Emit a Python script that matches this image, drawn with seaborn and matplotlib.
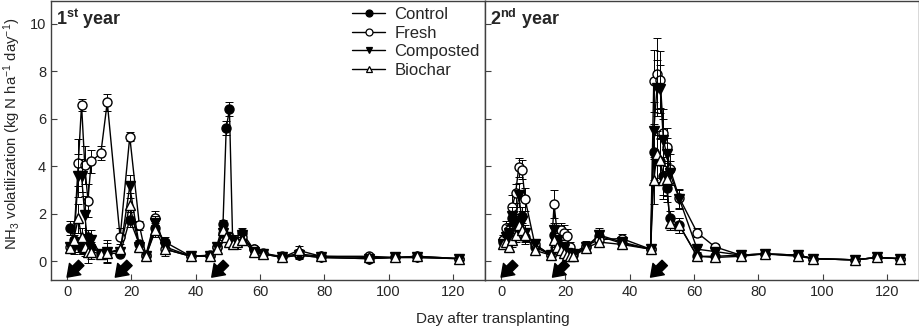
import numpy as np
import pandas as pd
import seaborn as sns
import matplotlib
matplotlib.use('Agg')
import matplotlib.pyplot as plt
from matplotlib.lines import Line2D

# ---- data: 1st year ----
days1 = [1, 2, 3.5, 4.5, 5.5, 6.5, 7.5, 10.5, 12.5, 16.5, 19.5, 22.5, 24.5, 27.5, 30.5,
         38.5, 44.5, 46.5, 48.5, 49.5, 50.5, 51.5, 53, 54.5, 58, 61, 67, 72, 79, 94, 102, 109, 122]
control1 = [1.4, 0.9, 0.7, 0.5, 0.5, 1.0, 0.6, 0.3, 0.35, 0.3, 1.75, 0.7, 0.2, 1.4, 0.8,
            0.2, 0.2, 0.6, 1.55, 5.6, 6.4, 0.9, 0.85, 1.2, 0.5, 0.35, 0.15, 0.25, 0.15, 0.1, 0.15, 0.15, 0.1]
fresh1 = [0.6, 0.7, 4.15, 6.6, 4.05, 2.55, 4.2, 4.55, 6.7, 1.0, 5.25, 1.5, 0.25, 1.8, 0.5,
          0.2, 0.25, 0.6, 1.2, 1.0, 1.0, 0.8, 0.9, 1.0, 0.5, 0.3, 0.2, 0.3, 0.2, 0.2, 0.15, 0.2, 0.1]
composted1 = [0.6, 0.6, 3.6, 3.6, 1.95, 0.7, 0.9, 0.3, 0.4, 0.4, 3.15, 0.6, 0.2, 1.6, 0.6,
              0.2, 0.2, 0.6, 1.2, 1.0, 0.9, 0.8, 0.7, 1.1, 0.4, 0.3, 0.15, 0.25, 0.15, 0.1, 0.15, 0.15, 0.1]
biochar1 = [0.55, 0.9, 1.8, 1.0, 0.6, 0.4, 0.4, 0.3, 0.35, 0.5, 2.35, 0.6, 0.2, 1.3, 0.5,
            0.2, 0.2, 0.5, 1.3, 1.0, 0.8, 0.7, 0.8, 0.9, 0.4, 0.3, 0.15, 0.45, 0.2, 0.15, 0.15, 0.2, 0.1]
control1_err = [0.3, 0.2, 0.3, 0.2, 0.2, 0.3, 0.2, 0.1, 0.1, 0.1, 0.3, 0.2, 0.1, 0.3, 0.2,
                0.1, 0.1, 0.2, 0.2, 0.3, 0.3, 0.2, 0.2, 0.2, 0.1, 0.1, 0.05, 0.1, 0.05, 0.05, 0.05, 0.05, 0.05]
fresh1_err = [0.2, 0.3, 1.0, 0.25, 0.8, 0.7, 0.5, 0.3, 0.35, 0.4, 0.2, 0.2, 0.1, 0.3, 0.3,
              0.1, 0.1, 0.2, 0.3, 0.2, 0.2, 0.2, 0.2, 0.3, 0.15, 0.1, 0.1, 0.2, 0.1, 0.1, 0.05, 0.1, 0.05]
composted1_err = [0.2, 0.3, 0.9, 0.7, 0.8, 0.3, 0.4, 0.2, 0.5, 0.2, 0.5, 0.2, 0.1, 0.3, 0.2,
                  0.1, 0.1, 0.2, 0.2, 0.2, 0.2, 0.2, 0.2, 0.2, 0.1, 0.1, 0.05, 0.1, 0.05, 0.05, 0.05, 0.05, 0.05]
biochar1_err = [0.2, 0.3, 0.6, 0.4, 0.4, 0.5, 0.3, 0.2, 0.4, 0.2, 0.5, 0.2, 0.1, 0.3, 0.2,
                0.1, 0.1, 0.2, 0.2, 0.2, 0.2, 0.2, 0.2, 0.2, 0.1, 0.1, 0.05, 0.2, 0.05, 0.05, 0.05, 0.05, 0.05]

# ---- data: 2nd year ----
days2 = [0.5, 1.5, 2.5, 3.5, 4.5, 5.5, 6.5, 7.5, 10.5, 15.5, 16.5, 17.5, 18.5, 19.5, 20.5,
         21.5, 22.5, 26.5, 30.5, 37.5, 46.5, 47.5, 48.5, 49.5, 50.5, 51.5, 52.5, 55.5, 61,
         66.5, 74.5, 82, 92.5, 97, 110, 117, 124]
control2 = [0.8, 0.9, 1.0, 1.8, 1.6, 1.3, 1.9, 1.0, 0.6, 0.25, 1.1, 0.9, 0.6, 0.4, 0.3,
            0.3, 0.25, 0.6, 1.05, 0.75, 0.5, 4.6, 4.3, 4.2, 3.6, 3.1, 1.8, 1.5, 0.2,
            0.2, 0.25, 0.3, 0.25, 0.1, 0.05, 0.15, 0.1]
fresh2 = [0.9, 1.4, 1.3, 2.3, 2.85, 3.95, 3.85, 2.6, 0.7, 0.25, 2.4, 1.1, 1.3, 1.2, 1.05,
          0.6, 0.35, 0.65, 0.9, 0.95, 0.5, 7.6, 7.9, 7.65, 5.4, 4.8, 3.9, 2.65, 1.2,
          0.6, 0.25, 0.3, 0.25, 0.1, 0.05, 0.15, 0.1]
composted2 = [0.7, 1.0, 1.2, 1.9, 1.6, 2.8, 1.7, 1.2, 0.7, 0.25, 1.3, 0.9, 0.6, 0.5, 0.35,
              0.3, 0.3, 0.6, 1.1, 0.8, 0.5, 5.5, 7.3, 7.25, 5.1, 4.5, 3.7, 2.6, 0.5,
              0.4, 0.25, 0.3, 0.25, 0.1, 0.05, 0.15, 0.1]
biochar2 = [0.7, 0.8, 0.6, 0.9, 1.1, 1.5, 1.3, 1.1, 0.45, 0.25, 0.9, 0.6, 0.45, 0.35, 0.25,
            0.2, 0.2, 0.55, 0.8, 0.7, 0.5, 3.4, 4.5, 4.25, 3.4, 3.45, 1.6, 1.5, 0.2,
            0.15, 0.2, 0.3, 0.2, 0.1, 0.05, 0.15, 0.1]
control2_err = [0.2, 0.2, 0.3, 0.4, 0.4, 0.3, 0.4, 0.3, 0.2, 0.1, 0.3, 0.2, 0.2, 0.1, 0.1,
                0.1, 0.1, 0.2, 0.2, 0.2, 0.1, 1.2, 1.0, 1.0, 0.8, 0.6, 0.3, 0.3, 0.1,
                0.1, 0.05, 0.05, 0.05, 0.05, 0.05, 0.05, 0.05]
fresh2_err = [0.2, 0.3, 0.3, 0.5, 0.4, 0.4, 0.4, 0.5, 0.2, 0.1, 0.6, 0.3, 0.3, 0.3, 0.3,
              0.2, 0.1, 0.2, 0.3, 0.2, 0.1, 1.3, 1.5, 1.2, 1.0, 0.8, 0.6, 0.4, 0.2,
              0.1, 0.05, 0.05, 0.05, 0.05, 0.05, 0.05, 0.05]
composted2_err = [0.2, 0.2, 0.3, 0.4, 0.4, 0.5, 0.4, 0.3, 0.2, 0.1, 0.3, 0.2, 0.2, 0.1, 0.1,
                  0.1, 0.1, 0.2, 0.3, 0.2, 0.1, 1.2, 1.2, 1.0, 0.9, 0.7, 0.5, 0.4, 0.1,
                  0.1, 0.05, 0.05, 0.05, 0.05, 0.05, 0.05, 0.05]
biochar2_err = [0.2, 0.2, 0.2, 0.3, 0.3, 0.4, 0.3, 0.3, 0.1, 0.1, 0.3, 0.2, 0.2, 0.1, 0.1,
                0.1, 0.1, 0.2, 0.2, 0.2, 0.1, 1.0, 1.0, 0.9, 0.8, 0.7, 0.3, 0.3, 0.1,
                0.1, 0.05, 0.05, 0.05, 0.05, 0.05, 0.05, 0.05]

# fertilizer application days (arrows)
arrows1 = [0, 15, 45]
arrows2 = [0, 16, 46.5]

treatments = ['Control', 'Fresh', 'Composted', 'Biochar']
markers = {'Control': 'o', 'Fresh': 'o', 'Composted': 'v', 'Biochar': '^'}
faces = {'Control': 'black', 'Fresh': 'white', 'Composted': 'black', 'Biochar': 'white'}

sns.set_style('ticks')
plt.rcParams['font.family'] = ['Liberation Sans', 'DejaVu Sans']
plt.rcParams['mathtext.fontset'] = 'custom'
plt.rcParams['mathtext.rm'] = 'Liberation Sans'
plt.rcParams['mathtext.it'] = 'Liberation Sans:italic'
plt.rcParams['mathtext.bf'] = 'Liberation Sans:bold'

fig = plt.figure(figsize=(9.2, 3.28), dpi=100)
ax1 = fig.add_axes([51/920, 48/328, 434/920, 279/328])
ax2 = fig.add_axes([485/920, 48/328, 434/920, 279/328])

panels = [
    (ax1, days1, [control1, fresh1, composted1, biochar1],
     [control1_err, fresh1_err, composted1_err, biochar1_err], arrows1, r'$\mathbf{1^{st}}$ year'),
    (ax2, days2, [control2, fresh2, composted2, biochar2],
     [control2_err, fresh2_err, composted2_err, biochar2_err], arrows2, r'$\mathbf{2^{nd}}$ year'),
]

for ax, days, series, errs, arrows, title in panels:
    for i, (name, vals, err) in enumerate(zip(treatments, series, errs)):
        ax.errorbar(days, vals, yerr=err, fmt='none', ecolor='black', elinewidth=0.7,
                    capsize=3, capthick=0.7, zorder=2 + i)
        sns.lineplot(x=days, y=vals, ax=ax, color='black', linewidth=1.0,
                     marker=markers[name], markersize=6.5, markerfacecolor=faces[name],
                     markeredgecolor='black', markeredgewidth=1.0,
                     errorbar=None, sort=False, zorder=3 + i)
    for d in arrows:
        ax.annotate('', xy=(d, -0.68), xytext=(d + 4.4, -0.08),
                    arrowprops=dict(arrowstyle='simple,head_width=1.05,head_length=0.75,tail_width=0.5',
                                    color='black', mutation_scale=11, shrinkA=0, shrinkB=0))
    ax.set_xlim(-5, 130)
    ax.set_ylim(-0.8, 10.97)
    ax.set_xticks([0, 20, 40, 60, 80, 100, 120])
    ax.set_yticks([0, 2, 4, 6, 8, 10])
    ax.tick_params(direction='in', length=4, width=0.8, color='#404040', labelsize=10.5,
                   top=False, right=False)
    for sp in ax.spines.values():
        sp.set_visible(True)
        sp.set_color('#404040')
        sp.set_linewidth(1.0)
    ax.set_xlabel('')
    ax.set_ylabel('')
    ax.text(0.012, 0.978, title, transform=ax.transAxes, fontsize=13, fontweight='bold',
            ha='left', va='top')

ax2.tick_params(labelleft=False)

handles = [Line2D([], [], color='black', linewidth=1.0, marker=markers[n], markersize=5,
                  markerfacecolor=faces[n], markeredgecolor='black', markeredgewidth=0.9)
           for n in treatments]
ax1.legend(handles, treatments, loc='upper left', bbox_to_anchor=(0.68, 1.0), frameon=False,
           fontsize=12, handlelength=2.0, labelspacing=0.22, handletextpad=0.55,
           borderaxespad=0.0, borderpad=0.35)

fig.text(493/920, 1 - 319/328, 'Day after transplanting', ha='center', va='center', fontsize=11)
fig.text(12/920, 1 - 134/328, r'NH$_3$ volatilization (kg N ha$^{-1}$ day$^{-1}$)',
         rotation=90, ha='center', va='center', fontsize=10.7)

fig.savefig('out.png', dpi=100)
